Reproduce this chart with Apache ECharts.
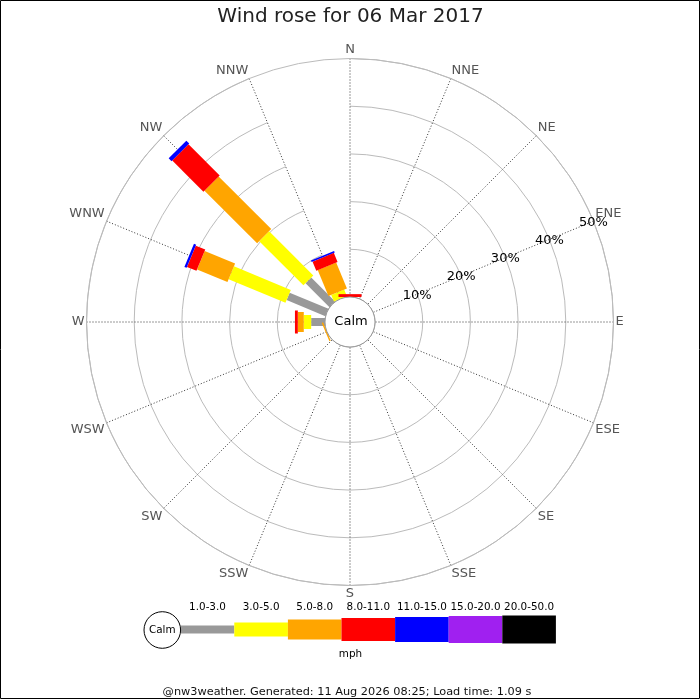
<!DOCTYPE html>
<html><head><meta charset="utf-8">
<script src="https://cdn.jsdelivr.net/npm/echarts@6/dist/echarts.min.js"></script>
<style>html,body{margin:0;padding:0;background:#fff}#c{width:700px;height:700px}</style>
</head><body><div id="c"></div>
<script>
// ---------- data ----------
const directions = ['N','NNE','NE','ENE','E','ESE','SE','SSE','S','SSW','SW','WSW','W','WNW','NW','NNW'];
const speedBins = ['1.0-3.0','3.0-5.0','5.0-8.0','8.0-11.0','11.0-15.0','15.0-20.0','20.0-50.0'];
// percentage of time, per direction (N ... NNW), per speed bin
const bin1_3   = [0,0,0,0,0,0,0,0,0,0,0,0,   2.9, 8.8, 7.1, 0];
const bin3_5   = [0,0,0,0,0,0,0,0,0,0,0,0,   1.55,12.9,13.1,1.5];
const bin5_8   = [0,0,0,0,0,0,0,0,0,0,0,0.3, 1.25,6.9, 15.6,5.9];
const bin8_11  = [0.6,0,0,0,0,0,0,0,0,0,0,0, 0.6, 2.15,9.25,2.05];
const bin11_15 = [0,0,0,0,0,0,0,0,0,0,0,0,   0,   0.5, 0.85,0.35];
const bin15_20 = [0,0,0,0,0,0,0,0,0,0,0,0,   0,   0,   0,   0];
const bin20_50 = [0,0,0,0,0,0,0,0,0,0,0,0,   0,   0,   0,   0];
const radialTicks = [10,20,30,40,50];
const radialTickLabels = ['10%','20%','30%','40%','50%'];
const titleText = 'Wind rose for 06 Mar 2017';
const footerText = '@nw3weather. Generated: 11 Aug 2026 08:25; Load time: 1.09 s';
const unitLabel = 'mph';
const calmLabel = 'Calm';

// ---------- styles ----------
const binColors = ['#999999','#ffff00','#ffa500','#ff0000','#0000ff','#a020f0','#000000'];
const binWidths = [8,14,20,23,25,27,28];
const FONT = 'DejaVu Sans';
const CX = 350, CY = 322, R0 = 25, R1 = 263.5;
const labelAngleIndex = 3; // ENE

const bins = [bin1_3, bin3_5, bin5_8, bin8_11, bin11_15, bin15_20, bin20_50];
const cumStart = bins.map((b, k) => b.map((v, i) => bins.slice(0, k).reduce((s, bb) => s + bb[i], 0)));

const barSeries = bins.map((b, k) => ({
  type: 'custom',
  coordinateSystem: 'polar',
  name: speedBins[k],
  z: 3,
  data: b.map((v, i) => [cumStart[k][i], i, v]),
  renderItem: function (params, api) {
    const start = api.value(0), idx = api.value(1), v = api.value(2);
    if (!(v > 0)) return null;
    const cs = params.coordSys;
    const a = api.coord([start, idx]);
    const e = api.coord([start + v, idx]);
    const dx = e[0] - cs.cx, dy = e[1] - cs.cy;
    const len = Math.hypot(dx, dy) || 1;
    const hw = binWidths[k] / 2;
    const nx = -dy / len * hw, ny = dx / len * hw;
    return {
      type: 'polygon',
      shape: { points: [[a[0]+nx, a[1]+ny], [e[0]+nx, e[1]+ny], [e[0]-nx, e[1]-ny], [a[0]-nx, a[1]-ny]] },
      style: { fill: binColors[k] }
    };
  }
}));

const pctLabelSeries = {
  type: 'custom', coordinateSystem: 'polar', silent: true, z: 5,
  data: radialTicks.map((v, i) => [v, labelAngleIndex, i]),
  renderItem: function (params, api) {
    const p = api.coord([api.value(0), api.value(1)]);
    return { type: 'text', x: p[0], y: p[1] + 1,
      style: { text: radialTickLabels[api.value(2)], fill: '#000', font: '13px ' + FONT, align: 'center', verticalAlign: 'middle' } };
  }
};

// legend graphics
const legendX0 = 180.7, legendStep = 53.6, legendY = 629.5;
const graphics = [
  { type: 'rect', shape: { x: 0.5, y: 0.5, width: 699, height: 698 }, style: { fill: 'none', stroke: '#000', lineWidth: 1 }, z: 200 },
  { type: 'text', x: 350.5, y: 17, style: { text: titleText, font: '20px ' + FONT, fill: '#222', align: 'center', verticalAlign: 'middle' }, z: 200 },
  { type: 'circle', shape: { cx: CX, cy: CY, r: R0 }, style: { fill: '#fff', stroke: '#999', lineWidth: 1 }, z: 150 },
  { type: 'text', x: CX + 1, y: CY, style: { text: calmLabel, font: '13px ' + FONT, fill: '#000', align: 'center', verticalAlign: 'middle' }, z: 151 },
  { type: 'circle', shape: { cx: 162.3, cy: 630, r: 18.3 }, style: { fill: '#fff', stroke: '#000', lineWidth: 1 }, z: 150 },
  { type: 'text', x: 162.3, y: 630, style: { text: calmLabel, font: '10.4px ' + FONT, fill: '#000', align: 'center', verticalAlign: 'middle' }, z: 151 },
  { type: 'text', x: 350.5, y: 654, style: { text: unitLabel, font: '10.4px ' + FONT, fill: '#000', align: 'center', verticalAlign: 'middle' }, z: 151 },
  { type: 'text', x: 347, y: 692.5, style: { text: footerText, font: '11.3px ' + FONT, fill: '#111', align: 'center', verticalAlign: 'middle' }, z: 151 }
];
speedBins.forEach((lab, k) => {
  const x = legendX0 + k * legendStep;
  graphics.push({ type: 'rect', shape: { x: x, y: legendY - binWidths[k] / 2, width: legendStep, height: binWidths[k] }, style: { fill: binColors[k] }, z: 140 });
  graphics.push({ type: 'text', x: x + legendStep / 2, y: 607, style: { text: lab, font: '10.4px ' + FONT, fill: '#000', align: 'center', verticalAlign: 'middle' }, z: 151 });
});

const chart = echarts.init(document.getElementById('c'), null, { renderer: 'canvas' });
chart.setOption({
  animation: false,
  backgroundColor: '#fff',
  polar: { center: [CX, CY], radius: [R0, R1] },
  angleAxis: {
    type: 'category', data: directions, boundaryGap: false, startAngle: 90, clockwise: true,
    axisLine: { show: true, lineStyle: { color: '#bbb', width: 1 } },
    axisTick: { show: false },
    axisLabel: { show: true, interval: 0, margin: 2, color: '#555', fontSize: 13, fontFamily: FONT },
    splitLine: { show: true, interval: 0, lineStyle: { color: '#333', width: 1, type: [1, 2] } }
  },
  radiusAxis: {
    type: 'value', min: 0, max: 50, interval: 10,
    axisLine: { show: false }, axisTick: { show: false }, axisLabel: { show: false },
    splitLine: { show: true, lineStyle: { color: '#bbb', width: 1 } }
  },
  series: barSeries.concat([pctLabelSeries]),
  graphic: graphics
});
</script>
</body></html>
